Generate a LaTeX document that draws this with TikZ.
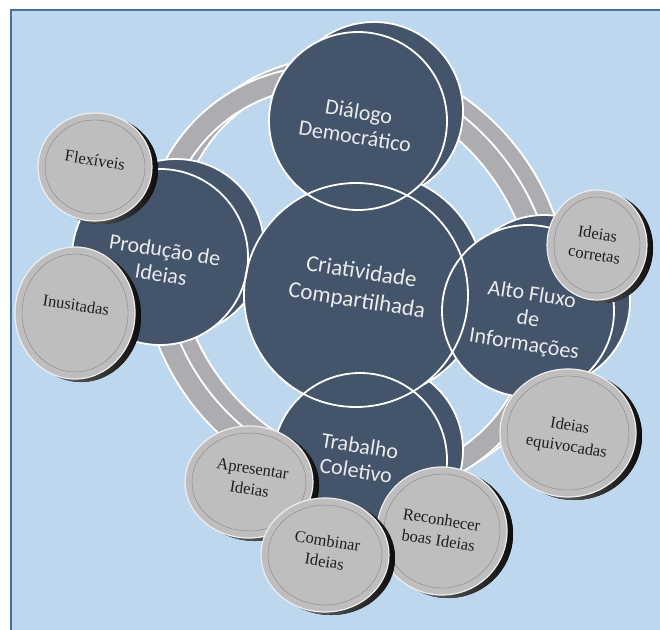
\documentclass[tikz,border=0pt]{standalone}
\usepackage{fontspec}
\setmainfont{Liberation Serif}
\newfontfamily\discofont{Carlito}
\usepackage{tikz}

\definecolor{fundo}{HTML}{BDD7EE}
\definecolor{borda}{HTML}{41719C}
\definecolor{ardosia}{HTML}{44546A}
\definecolor{anel}{HTML}{ADADB1}
\definecolor{botao}{HTML}{BFBDBD}

\tikzset{
  disco/.style={fill=ardosia},
  contorno/.style={draw=white, line width=1.8pt},
  anelborda/.style={draw=white, line width=23pt},
  anelmeio/.style={draw=anel, line width=19pt},
  rotulo/.style={font=\discofont\fontsize{22}{25}\selectfont, text=white!88!ardosia, align=center, rotate=-9},
  botaotexto/.style={font=\fontsize{16.5}{21}\selectfont, text=black!88, align=center, rotate=-9},
}

\begin{document}
\begin{tikzpicture}[x=1pt,y=-1pt]
        \useasboundingbox (0,0) rectangle (660,629);
        \fill[fundo] (11,10) rectangle (664,633);
        \draw[borda, line width=1.3pt] (11,10) rectangle (664,633);

        % centers of the dark disks
        \coordinate (dialogo) at (358,121);
        \coordinate (centro) at (356,295);
        \coordinate (producao) at (160,257);
        \coordinate (fluxo) at (528,311);
        \coordinate (trabalho) at (360,460);

        % ring behind the disks, back copy first
        \coordinate (anelfundo) at (362,272);
        \coordinate (anelfrente) at (348,281);
        \draw[anelborda] (anelfundo) circle[x radius=212, y radius=188, rotate=-55];
        \draw[anelmeio] (anelfundo) circle[x radius=212, y radius=188, rotate=-55];
        \draw[anelborda] (anelfrente) circle[x radius=212, y radius=188, rotate=-55];
        \draw[anelmeio] (anelfrente) circle[x radius=212, y radius=188, rotate=-55];

        % back faces of the disks
        \foreach \c/\r in {dialogo/89, producao/88, fluxo/86, trabalho/87, centro/112}
            \filldraw[disco, contorno] ([shift={(16,-10)}]\c) circle (\r);
        % front faces, then their edges on top
        \foreach \c/\r in {dialogo/89, producao/88, fluxo/86, trabalho/87, centro/112}
            \fill[disco] (\c) circle (\r);
        \foreach \c/\r in {dialogo/89, producao/88, fluxo/86, trabalho/87, centro/112}
            \draw[contorno] (\c) circle (\r);

        \node[rotulo] (tdialogo) at (357,124) {Diálogo\\Democrático};
        \node[rotulo, font=\discofont\fontsize{23}{29}\selectfont] (tcentro) at (359,287) {Criatividade\\Compartilhada};
        \node[rotulo] (tproducao) at (163,262) {Produção de\\Ideias};
        \node[rotulo] (tfluxo) at (528,320) {Alto Fluxo\\de\\Informações};
        \node[rotulo] (ttrabalho) at (358,458) {Trabalho\\Coletivo};

        % grey buttons
        \foreach \n/\x/\y/\rx/\ry/\tx/\ty/\t in {
            flexiveis/95/167/57/54/95/160/{Flexíveis},
            inusitadas/75/313/60/66/76/305/{Inusitadas},
            corretas/597/245/50/55/596/244/{Ideias\\corretas},
            equivocadas/568/433/68/64/568/437/{Ideias\\equivocadas},
            apresentar/249/482/64/56/251/479/{Apresentar\\Ideias},
            reconhecer/442/531/65/64/440/530/{Reconhecer\\boas Ideias},
            combinar/325/555/64/57/326/551/{Combinar\\Ideias}}
        {
            \fill[left color=black!45, right color=black!95, shift={(6,3)}] (\x,\y) circle[x radius=\rx, y radius=\ry];
            \filldraw[fill=botao, draw=white!75!botao, line width=1.2pt] (\x,\y) circle[x radius=\rx, y radius=\ry];
            \draw[botao!70!black, line width=0.4pt] (\x,\y) circle[x radius=\rx-7, y radius=\ry-7];
            \node[botaotexto] (\n) at (\tx,\ty) {\t};
        }
    \end{tikzpicture}
\end{document}
